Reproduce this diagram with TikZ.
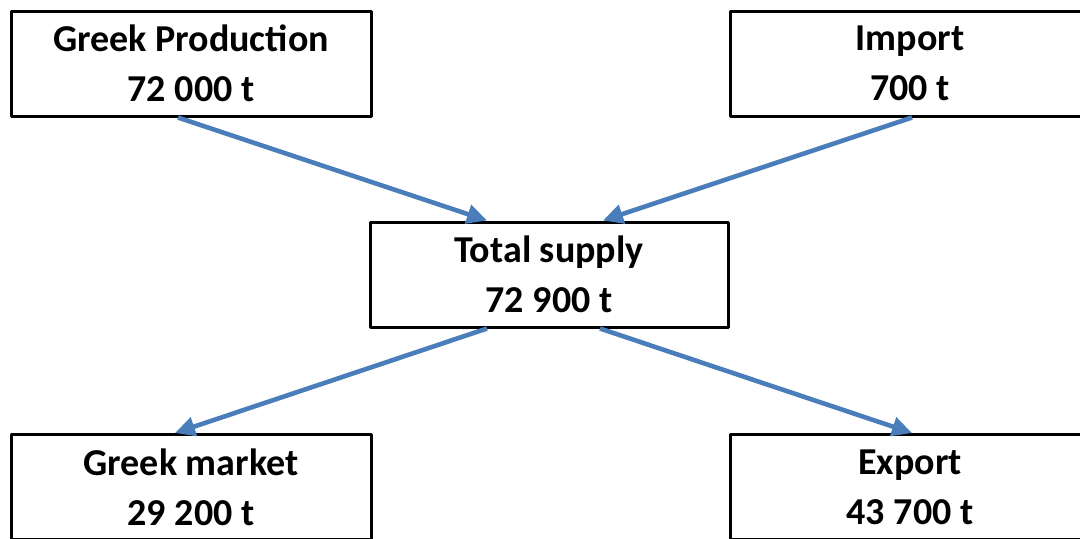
\documentclass[tikz,border=0pt]{standalone}
\usepackage{fontspec}
\setmainfont{Carlito}
\usetikzlibrary{arrows.meta}

\begin{document}
\begin{tikzpicture}[line cap=round,line join=round,x=0.5pt,y=-0.5pt,
  flowbox/.style={draw=black,line width=1.5pt,minimum width=180pt,minimum height=52.5pt,
    inner sep=0pt,align=center,font=\fontsize{19}{25}\selectfont\bfseries},
  flowarrow/.style={draw={rgb,255:red,74;green,126;blue,187},line width=2.3pt,line cap=butt,
    -{Triangle[length=10pt,width=9.5pt]}}]
\useasboundingbox (0,0) rectangle (1080,538);
\clip (0,0) rectangle (1080,538);
\node[flowbox] (prod) at (191,63.5) {Greek Production\\72 000 t};
\node[flowbox] (imp) at (910,63.5) {Import\\700 t};
\node[flowbox,minimum width=179pt] (total) at (549,274.5) {Total supply\\72 900 t};
\node[flowbox] (market) at (191,487) {Greek market\\29 200 t};
\node[flowbox] (exp) at (910,487) {Export\\43 700 t};
\draw[flowarrow] ([xshift=-6.5pt]prod.south) -- ([xshift=-31pt]total.north);
\draw[flowarrow] ([xshift=1pt]imp.south) -- ([xshift=27pt]total.north);
\draw[flowarrow] ([xshift=-31pt]total.south) -- ([xshift=-8pt]market.north);
\draw[flowarrow] ([xshift=25.5pt]total.south) -- ([xshift=1pt]exp.north);
\end{tikzpicture}
\end{document}
